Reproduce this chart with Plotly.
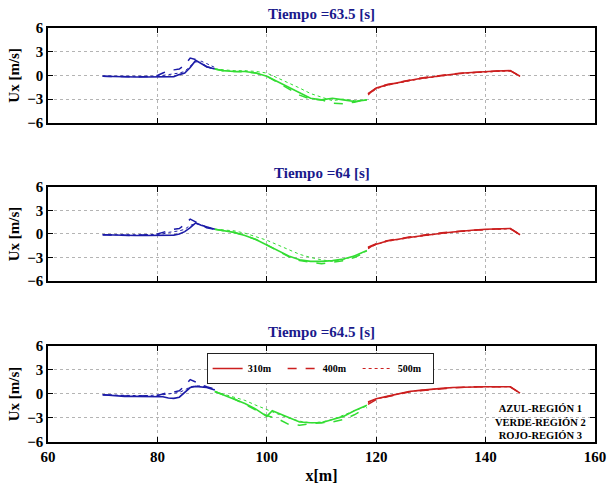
import plotly.graph_objects as go
from plotly.subplots import make_subplots

titles = ["Tiempo =63.5 [s]", "Tiempo =64 [s]", "Tiempo =64.5 [s]"]
series_names = ["310m", "400m", "500m"]
x_ticks = [60, 80, 100, 120, 140, 160]
y_ticks = [-6, -3, 0, 3, 6]

blue_x = [70, 72, 74, 76, 78, 80, 81, 82, 83, 84, 85, 86, 87, 88, 89, 90.5]
green_x = [90.5, 92, 94, 96, 98, 100, 101, 102, 104, 106, 108, 110, 112, 114, 116, 118.3]
red_x = [118.5, 120, 122, 124, 126, 128, 130, 132, 134, 136, 138, 140, 142, 144.5, 146.3]

# Panel 1 (t = 63.5 s)
p1_blue_310 = [-0.1, -0.15, -0.2, -0.2, -0.2, -0.2, -0.2, -0.2, -0.15, 0.1, 0.3, 1.0, 1.9, 1.5, 1.1, 0.8]
p1_blue_400 = [-0.1, -0.15, -0.2, -0.2, -0.15, 0.0, 0.3, 0.6, 0.7, 0.8, 1.3, 2.2, 2.0, 1.5, 1.1, 0.8]
p1_blue_500 = [-0.1, -0.1, -0.15, -0.15, -0.15, -0.1, 0.0, 0.1, 0.2, 0.3, 0.5, 1.2, 1.7, 1.8, 1.5, 1.0]
p1_green_310 = [0.8, 0.6, 0.5, 0.5, 0.3, -0.1, -0.45, -0.8, -1.6, -2.3, -2.9, -3.1, -2.9, -3.1, -3.3, -3.1]
p1_green_400 = [0.8, 0.6, 0.5, 0.45, 0.3, -0.1, -0.5, -0.9, -1.7, -2.5, -3.0, -3.1, -3.5, -3.6, -3.4, -3.0]
p1_green_500 = [0.8, 0.7, 0.6, 0.6, 0.5, 0.3, 0.0, -0.3, -1.0, -1.6, -2.3, -2.8, -3.2, -3.0, -3.2, -3.1]
p1_red_310 = [-2.4, -1.6, -1.2, -0.9, -0.65, -0.4, -0.2, 0.0, 0.15, 0.3, 0.4, 0.5, 0.55, 0.6, -0.1]
p1_red_400 = [-2.3, -1.6, -1.15, -0.85, -0.6, -0.35, -0.15, 0.05, 0.2, 0.3, 0.4, 0.5, 0.55, 0.6, -0.1]
p1_red_500 = [-2.5, -1.7, -1.25, -0.95, -0.7, -0.45, -0.25, -0.05, 0.1, 0.25, 0.35, 0.45, 0.5, 0.55, -0.1]

# Panel 2 (t = 64 s)
p2_blue_310 = [-0.1, -0.15, -0.2, -0.2, -0.2, -0.2, -0.2, -0.2, -0.15, 0.0, 0.3, 0.8, 1.4, 1.1, 0.9, 0.6]
p2_blue_400 = [-0.1, -0.15, -0.2, -0.2, -0.1, 0.0, 0.2, 0.4, 0.6, 0.7, 1.2, 1.9, 1.5, 1.1, 0.8, 0.6]
p2_blue_500 = [-0.1, -0.1, -0.15, -0.15, -0.1, -0.05, 0.0, 0.2, 0.3, 0.4, 0.6, 1.1, 1.3, 1.2, 0.9, 0.6]
p2_green_310 = [0.6, 0.4, 0.2, -0.2, -0.7, -1.4, -1.75, -2.1, -2.8, -3.3, -3.5, -3.5, -3.4, -3.2, -2.8, -2.1]
p2_green_400 = [0.6, 0.4, 0.2, -0.2, -0.7, -1.4, -1.8, -2.2, -2.9, -3.4, -3.6, -3.8, -3.6, -3.4, -3.0, -2.3]
p2_green_500 = [0.6, 0.5, 0.4, 0.1, -0.3, -0.8, -1.1, -1.4, -2.1, -2.6, -3.0, -3.3, -3.5, -3.3, -2.8, -2.2]
p2_red_310 = [-1.8, -1.3, -0.9, -0.65, -0.45, -0.25, -0.05, 0.1, 0.25, 0.4, 0.5, 0.6, 0.65, 0.7, -0.1]
p2_red_400 = [-1.7, -1.25, -0.85, -0.6, -0.4, -0.2, 0.0, 0.15, 0.3, 0.4, 0.5, 0.6, 0.65, 0.7, -0.1]
p2_red_500 = [-1.9, -1.35, -0.95, -0.7, -0.5, -0.3, -0.1, 0.05, 0.2, 0.35, 0.45, 0.55, 0.6, 0.65, -0.1]

# Panel 3 (t = 64.5 s)
p3_blue_310 = [-0.1, -0.2, -0.3, -0.3, -0.3, -0.3, -0.35, -0.5, -0.55, -0.4, 0.2, 0.8, 0.95, 0.9, 0.8, 0.5]
p3_blue_400 = [-0.1, -0.2, -0.25, -0.25, -0.25, -0.2, 0.0, 0.2, 0.25, 0.4, 1.0, 1.8, 1.5, 1.2, 0.9, 0.6]
p3_blue_500 = [-0.1, -0.15, -0.2, -0.2, -0.2, -0.15, -0.1, 0.0, 0.1, 0.2, 0.5, 0.9, 1.0, 1.0, 0.9, 0.6]
p3_green_310 = [0.3, -0.1, -0.6, -1.2, -1.9, -2.8, -2.1, -2.4, -2.9, -3.5, -3.6, -3.6, -3.2, -2.8, -2.1, -1.4]
p3_green_400 = [0.3, -0.1, -0.6, -1.3, -2.0, -2.7, -2.9, -3.1, -3.8, -3.9, -3.7, -3.6, -3.5, -3.2, -2.6, -1.7]
p3_green_500 = [0.3, 0.0, -0.4, -0.8, -1.4, -2.0, -2.3, -2.5, -3.0, -3.4, -3.6, -3.5, -3.2, -2.7, -2.1, -1.5]
p3_red_310 = [-1.0, -0.6, -0.3, 0.0, 0.3, 0.45, 0.6, 0.7, 0.8, 0.85, 0.9, 0.9, 0.9, 0.9, 0.1]
p3_red_400 = [-1.3, -0.7, -0.35, -0.05, 0.25, 0.4, 0.55, 0.65, 0.75, 0.85, 0.9, 0.9, 0.9, 0.9, 0.1]
p3_red_500 = [-1.1, -0.65, -0.3, 0.0, 0.3, 0.45, 0.6, 0.7, 0.8, 0.85, 0.9, 0.9, 0.9, 0.9, 0.1]

panels = [
    [(blue_x, [p1_blue_310, p1_blue_400, p1_blue_500]),
     (green_x, [p1_green_310, p1_green_400, p1_green_500]),
     (red_x, [p1_red_310, p1_red_400, p1_red_500])],
    [(blue_x, [p2_blue_310, p2_blue_400, p2_blue_500]),
     (green_x, [p2_green_310, p2_green_400, p2_green_500]),
     (red_x, [p2_red_310, p2_red_400, p2_red_500])],
    [(blue_x, [p3_blue_310, p3_blue_400, p3_blue_500]),
     (green_x, [p3_green_310, p3_green_400, p3_green_500]),
     (red_x, [p3_red_310, p3_red_400, p3_red_500])],
]

region_colors = ["#1c1ca8", "#33dd33", "#cc1f1f"]
dashes = ["solid", "dash", "dot"]
widths = [1.6, 1.5, 1.0]
serif = "Liberation Serif, Times New Roman, serif"

fig = make_subplots(rows=3, cols=1, shared_xaxes=False, vertical_spacing=0.0)

domains = [[0.771, 1.0], [0.389, 0.616], [0.0, 0.232]]

for r, panel in enumerate(panels):
    for g, (xs, ys_list) in enumerate(panel):
        for s, ys in enumerate(ys_list):
            show = (r == 2 and g == 2)
            fig.add_trace(go.Scatter(
                x=xs, y=ys, mode="lines",
                line=dict(color=region_colors[g], dash=dashes[s], width=widths[s]),
                name=series_names[s], showlegend=show,
            ), row=r + 1, col=1)

tickfont = dict(family=serif, size=15, color="black", weight="bold")
for r in range(3):
    fig.update_xaxes(
        range=[60, 160], tickvals=x_ticks, showticklabels=(r == 2),
        showgrid=True, gridcolor="#b4b4b4", griddash="dot", gridwidth=1,
        zeroline=False, showline=True, linecolor="black", linewidth=1.5,
        mirror="ticks", ticks="inside", ticklen=5, tickcolor="black", tickwidth=1.2,
        tickfont=tickfont, automargin=False,
        row=r + 1, col=1)
    fig.update_yaxes(
        range=[-6, 6], tickvals=y_ticks, domain=domains[r],
        showgrid=True, gridcolor="#b4b4b4", griddash="dot", gridwidth=1,
        zeroline=False, showline=True, linecolor="black", linewidth=1.5,
        mirror="ticks", ticks="inside", ticklen=5, tickcolor="black", tickwidth=1.2,
        tickfont=tickfont, automargin=False,
        title=dict(text="<b>Ux [m/s]</b>", font=dict(family=serif, size=15, color="black"), standoff=4),
        row=r + 1, col=1)

fig.update_xaxes(title=dict(text="<b>x[m]</b>", font=dict(family=serif, size=16, color="black"), standoff=6),
                 row=3, col=1)

title_y = [1.0, 0.616, 0.232]
for r in range(3):
    fig.add_annotation(
        text="<b>" + titles[r] + "</b>", xref="paper", yref="paper",
        x=0.5, y=title_y[r], yshift=4, xanchor="center", yanchor="bottom",
        showarrow=False, font=dict(family=serif, size=15, color="#1a1a8c"))

fig.add_annotation(
    text="<b>AZUL-REGIÓN 1<br>VERDE-REGIÓN 2<br>ROJO-REGIÓN 3</b>",
    xref="paper", yref="paper", x=0.9, y=0.048, xanchor="center", yanchor="middle",
    showarrow=False, align="center",
    font=dict(family=serif, size=10.5, color="black"))

fig.update_layout(
    width=608, height=485,
    margin=dict(l=48, r=13, t=28, b=43, autoexpand=False),
    plot_bgcolor="white", paper_bgcolor="white",
    showlegend=True,
    legend=dict(orientation="h", x=0.29, y=0.215, xanchor="left", yanchor="top",
                bgcolor="white", bordercolor="#222222", borderwidth=1,
                font=dict(family=serif, size=10, color="black", weight="bold"),
                entrywidth=30, entrywidthmode="pixels", tracegroupgap=0,
                itemwidth=30),
)

fig.write_html("out.html", config={"displayModeBar": False},
               post_script="document.body.style.margin='0px';document.body.style.overflow='hidden';")
